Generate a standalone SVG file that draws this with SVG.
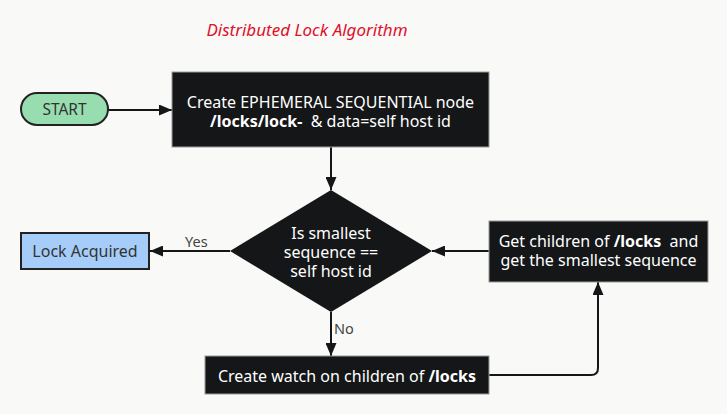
<svg xmlns="http://www.w3.org/2000/svg" width="727" height="414" viewBox="0 0 727 414">
<defs>
<marker id="ah" viewBox="0 0 13 11" refX="13" refY="5.5" markerWidth="13" markerHeight="11" markerUnits="userSpaceOnUse" orient="auto">
<path d="M0,0 L13,5.5 L0,11 Z" fill="#141618"/>
</marker>
<style>
text{font-family:"Noto Sans","Open Sans","DejaVu Sans",sans-serif;font-size:16px;text-anchor:middle;white-space:pre}
.dark{fill:#141618;stroke:#9a9a9a;stroke-width:1}
.w{fill:#ffffff}
.b{font-weight:bold}
.lbl{fill:#444;font-size:14.5px;text-anchor:start}
.conn{fill:none;stroke:#141618;stroke-width:2;marker-end:url(#ah)}
</style>
</defs>
<rect x="0" y="0" width="727" height="414" fill="#f9f9f7"/>
<text x="307" y="36" font-style="italic" fill="#e0102a" style="font-size:17px">Distributed Lock Algorithm</text>
<g id="connectors">
<path class="conn" d="M108,110 H172"/>
<path class="conn" d="M331,147 V190"/>
<path class="conn" d="M230,251 H150"/>
<path class="conn" d="M489,251 H432"/>
<path class="conn" d="M331,312 V356"/>
<path class="conn" d="M489,375 H591 Q598,375 598,368 V282"/>
<text class="lbl" x="185" y="247">Yes</text>
<text class="lbl" x="334" y="334">No</text>
</g>
<g id="start">
<rect x="21" y="93" width="87" height="32" rx="16" fill="#98ddb0" stroke="#222" stroke-width="2"/>
<text x="64.5" y="115" fill="#333" style="font-size:15.5px">START</text>
</g>
<g id="create-node">
<rect class="dark" x="172" y="72" width="317" height="75"/>
<text class="w" x="330.5" y="108">Create EPHEMERAL SEQUENTIAL node</text>
<text class="w" x="330.5" y="127" xml:space="preserve"><tspan class="b">/locks/lock-</tspan>  &amp; data=self host id</text>
</g>
<g id="decision">
<polygon points="331,190 432,251 331,312 230,251" fill="#141618"/>
<text class="w" x="331" y="239">Is smallest</text>
<text class="w" x="331" y="258">sequence ==</text>
<text class="w" x="331" y="277">self host id</text>
</g>
<g id="lock-acquired">
<rect x="21" y="233" width="128" height="36" fill="#a6cdfa" stroke="#222" stroke-width="2"/>
<text x="85" y="257" fill="#333">Lock Acquired</text>
</g>
<g id="get-children">
<rect class="dark" x="489" y="221" width="219" height="61"/>
<text class="w" x="598.5" y="247" xml:space="preserve">Get children of <tspan class="b">/locks</tspan>  and</text>
<text class="w" x="598.5" y="266">get the smallest sequence</text>
</g>
<g id="create-watch">
<rect class="dark" x="205" y="356" width="284" height="38"/>
<text class="w" x="347" y="382">Create watch on children of <tspan class="b">/locks</tspan></text>
</g>
</svg>
